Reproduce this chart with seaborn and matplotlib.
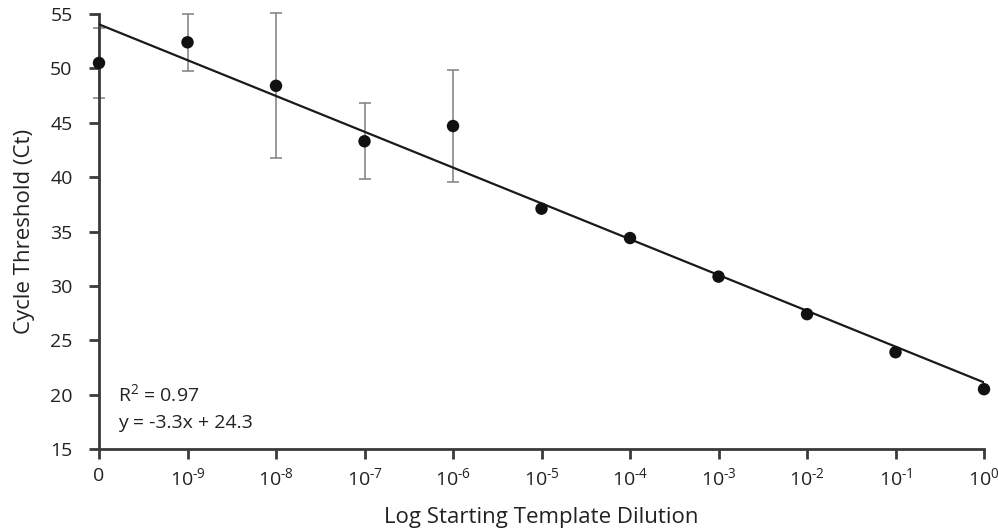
import numpy as np
import pandas as pd
import seaborn as sns
import matplotlib.pyplot as plt

sns.set_style('white')
plt.rcParams['font.family'] = ['Open Sans', 'DejaVu Sans']
plt.rcParams['mathtext.fontset'] = 'custom'
plt.rcParams['mathtext.rm'] = 'Open Sans'
plt.rcParams['mathtext.it'] = 'Open Sans:italic'

# data
dilution_labels = ['0', '$10^{\\text{-9}}$', '$10^{\\text{-8}}$', '$10^{\\text{-7}}$',
                   '$10^{\\text{-6}}$', '$10^{\\text{-5}}$', '$10^{\\text{-4}}$',
                   '$10^{\\text{-3}}$', '$10^{\\text{-2}}$', '$10^{\\text{-1}}$', '$10^{0}$']
ct_mean = [50.5, 52.4, 48.4, 43.3, 44.7, 37.1, 34.4, 30.85, 27.4, 23.9, 20.5]
ct_err = [3.25, 2.6, 6.65, 3.5, 5.15, 0, 0, 0, 0, 0, 0]

df = pd.DataFrame({'pos': np.arange(len(dilution_labels)), 'ct': ct_mean, 'err': ct_err})

fig = plt.figure(figsize=(9.98, 5.31), dpi=100)
ax = fig.add_axes([0.0992, 0.1544, 0.8868, 0.8192])

# error bars (only where there is a spread)
eb = df[df['err'] > 0]
ax.errorbar(eb['pos'], eb['ct'], yerr=eb['err'], fmt='none', ecolor='#7f7f7f',
            elinewidth=1.1, capsize=4, capthick=1.1, zorder=2, clip_on=False)

# fitted line
sns.regplot(x='pos', y='ct', data=df, ci=None, scatter=False, ax=ax,
            line_kws={'color': '#1a1a1a', 'lw': 1.6, 'zorder': 3})

sns.scatterplot(x='pos', y='ct', data=df, ax=ax, color='#111111', s=80,
                edgecolor='none', zorder=4, clip_on=False)

ax.set_xlim(0, 10)
ax.set_ylim(15, 55)
ax.set_yticks(range(15, 56, 5))
ax.set_xticks(df['pos'])
ax.set_xticklabels(dilution_labels)

for s in ['top', 'right']:
    ax.spines[s].set_visible(False)
for s in ['left', 'bottom']:
    ax.spines[s].set_color('#3a3a3a')
    ax.spines[s].set_linewidth(2)
ax.tick_params(axis='both', direction='out', length=7, width=2, color='#3a3a3a',
               labelsize=14, labelcolor='#222222', left=True, bottom=True)
ax.tick_params(axis='x', pad=6)
ax.tick_params(axis='y', pad=12)

ax.set_xlabel('Log Starting Template Dilution', fontsize=16, color='#222222', labelpad=13)
ax.set_ylabel('Cycle Threshold (Ct)', fontsize=16, color='#222222', labelpad=11)

ax.text(0.22, 20.0, 'R$^{2}$ = 0.97', fontsize=14, color='#222222', va='center')
ax.text(0.22, 17.4, 'y = -3.3x + 24.3', fontsize=14, color='#222222', va='center')

fig.savefig('out.png', dpi=100)
